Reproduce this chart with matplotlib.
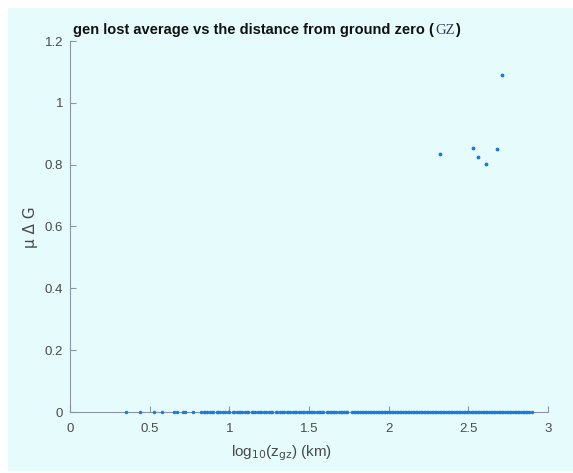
import matplotlib
matplotlib.use('Agg')
import matplotlib.pyplot as plt
import matplotlib.transforms as mtrans
from matplotlib.patches import Rectangle

# outlier points (log10 distance, mean gen lost)
x_high = [2.32, 2.53, 2.56, 2.61, 2.68, 2.71]
y_high = [0.834, 0.853, 0.824, 0.803, 0.851, 1.090]

# points sitting on zero
x_zero = [0.35, 0.44, 0.53, 0.58, 0.65, 0.67, 0.71, 0.72, 0.77, 0.82, 0.84, 0.85,
          0.86, 0.88, 0.89, 0.90, 0.92, 0.93, 0.94, 0.96, 0.97, 0.99, 1.00, 1.02,
          1.03, 1.05, 1.06, 1.07, 1.08, 1.10, 1.11, 1.12, 1.14, 1.15, 1.16, 1.18,
          1.19, 1.20, 1.22, 1.23, 1.25, 1.26, 1.27, 1.29, 1.30, 1.32, 1.33, 1.34,
          1.36, 1.37, 1.38, 1.40, 1.41, 1.42, 1.44, 1.45, 1.46, 1.47, 1.49, 1.50,
          1.51, 1.52, 1.53, 1.55, 1.56, 1.57, 1.58, 1.59, 1.61, 1.62, 1.63, 1.64,
          1.65, 1.66, 1.67, 1.69, 1.70, 1.71, 1.72, 1.73, 1.74, 1.77, 1.78, 1.79,
          1.80, 1.81, 1.82, 1.83, 1.84, 1.85, 1.86, 1.87, 1.88, 1.89, 1.90, 1.91,
          1.92, 1.93, 1.94, 1.95, 1.96, 1.97, 1.98, 1.99, 2.00, 2.01, 2.02, 2.03,
          2.04, 2.05, 2.06, 2.07, 2.08, 2.09, 2.10, 2.11, 2.12, 2.13, 2.14, 2.15,
          2.16, 2.17, 2.18, 2.19, 2.20, 2.21, 2.22, 2.23, 2.24, 2.25, 2.26, 2.27,
          2.28, 2.29, 2.30, 2.31, 2.32, 2.33, 2.34, 2.35, 2.36, 2.37, 2.38, 2.39,
          2.40, 2.41, 2.42, 2.43, 2.44, 2.45, 2.46, 2.47, 2.48, 2.49, 2.50, 2.51,
          2.52, 2.53, 2.54, 2.55, 2.56, 2.57, 2.58, 2.59, 2.60, 2.61, 2.62, 2.63,
          2.64, 2.65, 2.66, 2.67, 2.68, 2.69, 2.70, 2.71, 2.72, 2.73, 2.74, 2.75,
          2.76, 2.77, 2.78, 2.79, 2.80, 2.81, 2.82, 2.83, 2.84, 2.85, 2.86, 2.87,
          2.88, 2.90]
y_zero = [0.0] * len(x_zero)

x_ticks = [0, 0.5, 1, 1.5, 2, 2.5, 3]
x_ticklabels = ['0', '0.5', '1', '1.5', '2', '2.5', '3']
y_ticks = [0, 0.2, 0.4, 0.6, 0.8, 1, 1.2]
y_ticklabels = ['0', '0.2', '0.4', '0.6', '0.8', '1', '1.2']

W, H = 573, 473
bg = '#e6fcfc'
axcol = '#8a94a4'
txtcol = '#4a4a4a'
dotcol = '#1a7ae0'

plt.rcParams['font.family'] = ['Liberation Sans', 'DejaVu Sans']

fig = plt.figure(figsize=(W / 100, H / 100), dpi=100, facecolor='white')
fig.patches.append(Rectangle((8 / W, 1 - 470 / H), 1, 462 / H,
                             transform=fig.transFigure, color=bg, zorder=-5))

ax = fig.add_axes([70 / W, 1 - 412 / H, 478 / W, 371 / H])
ax.patch.set_visible(False)

ax.plot(x_zero, y_zero, '.', color=dotcol, markersize=3, clip_on=False, zorder=3)
ax.plot(x_high, y_high, '.', color=dotcol, markersize=3.5, zorder=3)

ax.set_xlim(0, 3)
ax.set_ylim(0, 1.2)
ax.set_xticks(x_ticks)
ax.set_xticklabels(x_ticklabels)
ax.set_yticks(y_ticks)
ax.set_yticklabels(y_ticklabels)
ax.spines['top'].set_visible(False)
ax.spines['right'].set_visible(False)
for s in ['left', 'bottom']:
    ax.spines[s].set_color(axcol)
    ax.spines[s].set_linewidth(0.8)
ax.tick_params(direction='in', length=4, width=0.8, color=axcol,
               labelcolor=txtcol, labelsize=9.5)
ax.tick_params(axis='x', pad=8)
ax.tick_params(axis='y', pad=5)

# axis labels
fig.text(282 / W, 1 - 453 / H, r'log$_{10}$(z$_{\mathrm{gz}}$) (km)',
         ha='center', va='center', fontsize=11, color=txtcol)
fig.text(31 / W, 1 - 227 / H, 'μ Δ G', rotation=90, ha='center', va='center',
         fontsize=11, color=txtcol, family=['DejaVu Sans'])

# title with serif GZ
base_y = 1 - 34 / H
pix_fig = mtrans.blended_transform_factory(mtrans.IdentityTransform(), fig.transFigure)
t = fig.text(73 / W, base_y, 'gen lost average vs the distance from ground zero (',
             ha='left', va='baseline', fontsize=10.5, fontweight='bold', color='#111111')
fig.canvas.draw()
bb = t.get_window_extent()
g = fig.text(bb.x1 + 1, base_y, 'GZ', ha='left', va='baseline', fontsize=10.5,
             family=['Liberation Serif'], color='#333a55', transform=pix_fig)
fig.canvas.draw()
bb2 = g.get_window_extent()
fig.text(bb2.x1 + 1, base_y, ')', ha='left', va='baseline', fontsize=10.5,
         fontweight='bold', color='#111111', transform=pix_fig)

fig.savefig('out.png', dpi=100, facecolor='white')
